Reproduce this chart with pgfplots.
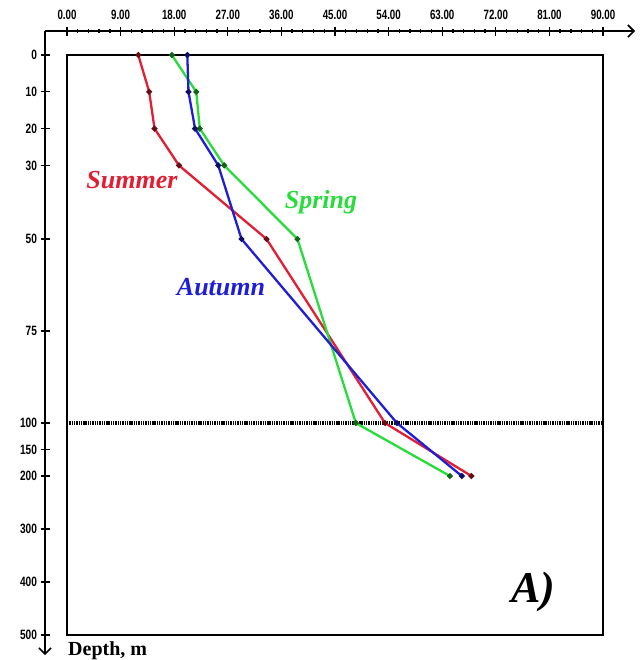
\documentclass[border=0pt]{standalone}
\usepackage{pgfplots}
\pgfplotsset{compat=1.18}
\usetikzlibrary{arrows.meta}
\usepackage{fontspec}
\setmainfont{Liberation Serif}
\newfontfamily\tickfont[FakeStretch=0.72]{Liberation Sans}
\newfontfamily\ytickfont[FakeStretch=0.75]{Liberation Sans}
\definecolor{cSum}{RGB}{225,30,50}
\definecolor{cSpr}{RGB}{40,220,60}
\definecolor{cAut}{RGB}{30,30,215}
\pgfplotsset{
  depthtrafo/.style={
    y coord trafo/.code={\pgfmathparse{(##1<=100) ? ##1 : 100+(##1-100)*0.144}},
    y coord inv trafo/.code={\pgfmathparse{(##1<=100) ? ##1 : 100+(##1-100)/0.144}},
  }
}
\begin{document}
\begin{tikzpicture}
\path[use as bounding box] (0pt,0pt) rectangle (642pt,-660pt);
% tick axes (outer)
\begin{axis}[
  depthtrafo,
  at={(340pt,-343pt)}, anchor=center,
  scale only axis, width=590pt, height=624pt,
  xmin=-3.69, xmax=95.37, ymin=-6.52, ymax=537.8,
  y dir=reverse,
  axis x line=top, axis y line=left,
  x axis line style={line width=1.6pt,-{Straight Barb[length=6pt,width=12pt,line width=1.6pt]}},
  y axis line style={line width=1.6pt,-{Straight Barb[length=6pt,width=12pt,line width=1.6pt]}},
  xtick={0,9,18,27,36,45,54,63,72,81,90},
  xticklabels={0.00,9.00,18.00,27.00,36.00,45.00,54.00,63.00,72.00,81.00,90.00},
  minor x tick num=4,
  ytick={0,10,20,30,50,75,100,150,200,300,400,500},
  yticklabels={0,10,20,30,50,75,100,150,200,300,400,500},
  tick align=center,
  major tick length=9pt, minor tick length=4pt,
  every tick/.style={black, line width=1.3pt},
  xticklabel style={font=\tickfont\bfseries\fontsize{13.5}{13.5}\selectfont, yshift=3pt},
  yticklabel style={font=\ytickfont\bfseries\fontsize{13.5}{13.5}\selectfont},
  enlargelimits=false,
]
\addplot[draw=none] coordinates {(0,0)};
\end{axis}
% main box with data
\begin{axis}[
  depthtrafo,
  at={(335pt,-345pt)}, anchor=center,
  scale only axis, width=536pt, height=580pt,
  xmin=0, xmax=90, ymin=0, ymax=500,
  y dir=reverse,
  xtick=\empty, ytick=\empty,
  axis line style={line width=1.6pt},
  enlargelimits=false,
  clip=false,
]
\addplot[black, line width=3.6pt, dash pattern=on 1.4pt off 0.9pt] coordinates {(0,100) (90,100)};
\addplot[cSum, line width=2.3pt, mark=*, mark size=1.6pt, mark options={fill=cSum!45!black, draw=cSum!45!black}]
  coordinates {(11.97,0) (13.8,10) (14.7,20) (18.8,30) (33.5,50) (53.4,100) (67.9,200)};
\addplot[cSpr, line width=2.3pt, mark=*, mark size=1.6pt, mark options={fill=cSpr!45!black, draw=cSpr!45!black}]
  coordinates {(17.6,0) (21.7,10) (22.3,20) (26.4,30) (38.7,50) (48.5,100) (64.3,200)};
\addplot[cAut, line width=2.3pt, mark=*, mark size=1.6pt, mark options={fill=cAut!45!black, draw=cAut!45!black}]
  coordinates {(20.2,0) (20.4,10) (21.5,20) (25.4,30) (29.3,50) (55.4,100) (66.3,200)};
\end{axis}
\node[text=cSum, font=\bfseries\itshape\fontsize{26}{26}\selectfont] at (132pt,-180pt) {Summer};
\node[text=cSpr, font=\bfseries\itshape\fontsize{26}{26}\selectfont] at (321pt,-202pt) {Spring};
\node[text=cAut, font=\bfseries\itshape\fontsize{26}{26}\selectfont] at (221pt,-287pt) {Autumn};
\node[text=black, font=\bfseries\itshape\fontsize{44}{44}\selectfont] at (533pt,-592pt) {A)};
\node[anchor=base west, inner sep=0pt, font=\bfseries\fontsize{20}{20}\selectfont] at (68pt,-655pt) {Depth, m};
\end{tikzpicture}
\end{document}
